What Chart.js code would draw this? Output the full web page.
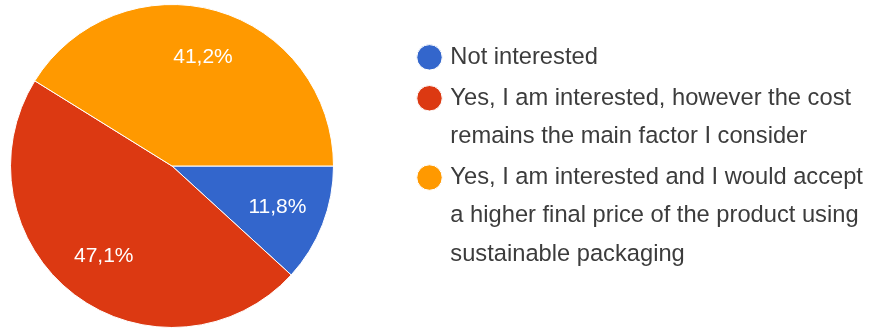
<!DOCTYPE html>
<html>
<head>
<meta charset="utf-8">
<script src="https://cdn.jsdelivr.net/npm/chart.js@4/dist/chart.umd.min.js"></script>
<style>
	html, body { margin: 0; padding: 0; background: #fff; }
	canvas { display: block; }
</style>
</head>
<body>
<canvas id="pieCanvas" width="869" height="329"></canvas>
<script>
// legend lines, one array per answer
const categories = [
	["Not interested"],
	["Yes, I am interested, however the cost", "remains the main factor I consider"],
	["Yes, I am interested and I would accept", "a higher final price of the product using", "sustainable packaging"],
];
const percentages = [11.8, 47.1, 41.2];
const colors = ["#3366cc", "#dc3912", "#ff9900"];

// widen the legend box so the pie keeps to the left part of the canvas
const legendSizer = {
	id: "legendSizer",
	beforeInit(chart) {
		const lg = chart.legend;
		const originalFit = lg.fit;
		lg.fit = function fit() {
			originalFit.bind(lg)();
			this.width = 869 - 344;
		};
		// no clipping, the round markers poke out a little on the left
		if (typeof lg._draw === "function") {
			lg.draw = function draw() {
				if (this.options.display) {
					this._draw();
				}
			};
		}
	},
	afterLayout(chart) {
		const lg = chart.legend;
		const w = lg.width;
		lg.left = 418;
		lg.right = lg.left + w;
		lg.top = 43;
		lg.bottom = 329;
	},
};

// percentage text inside each slice
const sliceLabels = {
	id: "sliceLabels",
	afterDatasetsDraw(chart) {
		const ctx = chart.ctx;
		const meta = chart.getDatasetMeta(0);
		ctx.save();
		ctx.font = "21px 'Liberation Sans', Arial, sans-serif";
		ctx.fillStyle = "#ffffff";
		ctx.textAlign = "center";
		ctx.textBaseline = "middle";
		meta.data.forEach((arc, i) => {
			const mid = (arc.startAngle + arc.endAngle) / 2;
			const r = arc.outerRadius * 0.7;
			const x = arc.x + Math.cos(mid) * r;
			const y = arc.y + Math.sin(mid) * r;
			ctx.fillText(percentages[i].toFixed(1).replace(".", ",") + "%", x, y);
		});
		ctx.restore();
	},
};

const ctx = document.getElementById("pieCanvas").getContext("2d");
new Chart(ctx, {
	type: "pie",
	data: {
		labels: categories,
		datasets: [
			{
				data: percentages,
				backgroundColor: colors,
				borderColor: "#ffffff",
				borderWidth: 1,
			},
		],
	},
	options: {
		responsive: false,
		animation: false,
		rotation: 90,
		layout: {
			padding: { top: 4, bottom: 1, left: 0, right: 0 },
		},
		plugins: {
			tooltip: { enabled: false },
			legend: {
				position: "right",
				align: "start",
				labels: {
					usePointStyle: true,
					boxWidth: 18,
					boxHeight: 18,
					padding: 2.5,
					color: "#3c3c3c",
					font: {
						family: "'Liberation Sans', Arial, sans-serif",
						size: 23.7,
						lineHeight: 1.62,
					},
				},
			},
		},
	},
	plugins: [legendSizer, sliceLabels],
});
</script>
</body>
</html>
